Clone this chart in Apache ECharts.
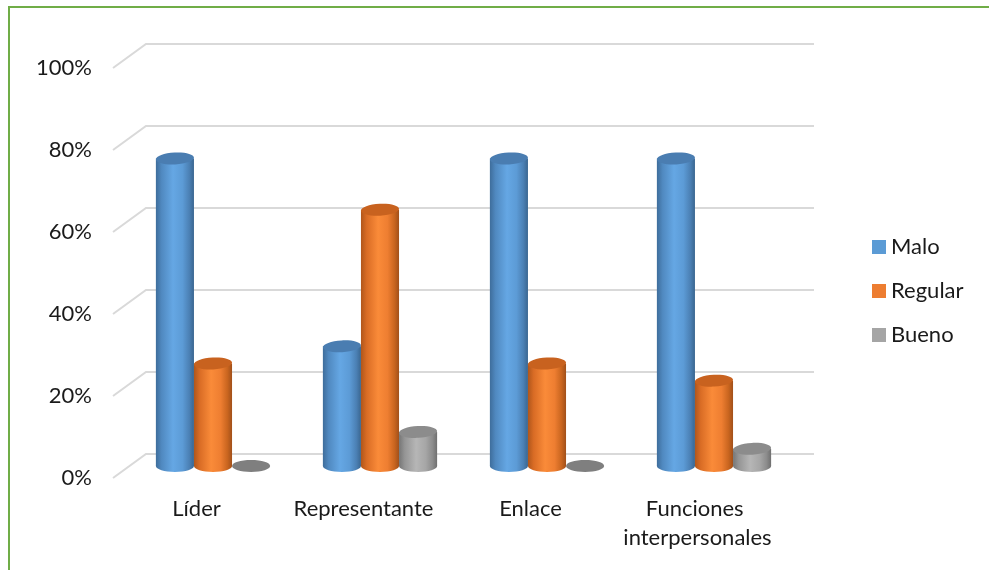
<!DOCTYPE html>
<html>
<head>
<meta charset="utf-8">
<script src="https://cdn.jsdelivr.net/npm/echarts@6/dist/echarts.min.js"></script>
<style>
  html, body { margin: 0; padding: 0; background: #ffffff; }
  #chart { width: 989px; height: 570px; }
</style>
</head>
<body>
<div id="chart"></div>
<script>
// Categories and percentages per rating
const categories = ['Líder', 'Representante', 'Enlace', 'Funciones interpersonales'];
const seriesNames = ['Malo', 'Regular', 'Bueno'];
const malo = [75, 29.2, 75, 75];
const regular = [25, 62.5, 25, 20.8];
const bueno = [0, 8.3, 0, 4.2];
const yTicks = [0, 20, 40, 60, 80, 100];

// Depth of the pseudo-3D floor/back wall (pixels)
const DEPTH_X = 33;
const DEPTH_Y = -24;
const BAR_RATIO = 0.228;
const FONT = 'Lato, "Open Sans", sans-serif';
const TEXT_COLOR = '#1a1a1a';
const FONT_SIZE = 22;

const shades = {
  Malo: {
    legend: '#5b9bd5',
    top: '#4a7db1',
    flat: '#4a7db1',
    stops: [
      { offset: 0, color: '#3e6d9b' },
      { offset: 0.15, color: '#5089c0' },
      { offset: 0.45, color: '#65a7e4' },
      { offset: 0.7, color: '#5c9bd6' },
      { offset: 0.88, color: '#4b80b4' },
      { offset: 1, color: '#3a6690' }
    ]
  },
  Regular: {
    legend: '#ed7d31',
    top: '#c8621f',
    flat: '#c8621f',
    stops: [
      { offset: 0, color: '#b0561b' },
      { offset: 0.15, color: '#d96c25' },
      { offset: 0.45, color: '#fa8b39' },
      { offset: 0.7, color: '#ee7e31' },
      { offset: 0.88, color: '#c9651f' },
      { offset: 1, color: '#a1501a' }
    ]
  },
  Bueno: {
    legend: '#a5a5a5',
    top: '#8c8c8c',
    flat: '#7f7f7f',
    stops: [
      { offset: 0, color: '#767676' },
      { offset: 0.15, color: '#959595' },
      { offset: 0.45, color: '#b6b6b6' },
      { offset: 0.7, color: '#a6a6a6' },
      { offset: 0.88, color: '#8c8c8c' },
      { offset: 1, color: '#6f6f6f' }
    ]
  }
};

// Back wall lines plus the slanted connectors from the value axis
function renderWall(params, api) {
  const cs = params.coordSys;
  const y = api.coord([0, api.value(1)])[1];
  const x0 = cs.x;
  const x1 = cs.x + cs.width;
  return {
    type: 'polyline',
    silent: true,
    shape: { points: [[x0, y], [x0 + DEPTH_X, y + DEPTH_Y], [x1 + DEPTH_X, y + DEPTH_Y]] },
    style: { stroke: '#d9d9d9', lineWidth: 2, fill: null }
  };
}

// One cylinder per data item, standing at mid-depth of the floor
function makeCylinder(seriesIndex, shade) {
  return function (params, api) {
    const idx = api.value(0);
    const val = api.value(1);
    const band = api.size([1, 0])[0];
    const barW = band * BAR_RATIO;
    const base = api.coord([idx, 0]);
    const topPt = api.coord([idx, val]);
    const cx = base[0] + DEPTH_X / 2 + (seriesIndex - 1) * barW;
    const yb = base[1] + DEPTH_Y / 2;
    const yt = topPt[1] + DEPTH_Y / 2;
    const rx = barW / 2;
    const ry = barW * 0.155;
    const tilt = 0.05;

    if (yb - yt < 1) {
      return {
        type: 'ellipse',
        shape: { cx: cx, cy: yb, rx: rx, ry: ry },
        style: { fill: shade.flat }
      };
    }
    const grad = () => new echarts.graphic.LinearGradient(0, 0, 1, 0, shade.stops);
    return {
      type: 'group',
      children: [
        { type: 'ellipse', shape: { cx: cx, cy: yb, rx: rx, ry: ry }, style: { fill: grad() } },
        { type: 'rect', shape: { x: cx - rx, y: yt, width: barW, height: yb - yt }, style: { fill: grad() } },
        {
          type: 'ellipse',
          shape: { cx: cx, cy: yt, rx: rx, ry: ry },
          rotation: tilt,
          originX: cx,
          originY: yt,
          style: { fill: shade.top }
        }
      ]
    };
  };
}

const valueLists = [malo, regular, bueno];
const barSeries = seriesNames.map((name, i) => ({
  name: name,
  type: 'custom',
  renderItem: makeCylinder(i, shades[name]),
  itemStyle: { color: shades[name].legend },
  encode: { x: 0, y: 1 },
  data: valueLists[i].map((v, c) => [c, v]),
  z: 3
}));

const chart = echarts.init(document.getElementById('chart'), null, { renderer: 'canvas' });
chart.setOption({
  backgroundColor: '#ffffff',
  animation: false,
  textStyle: { fontFamily: FONT },
  grid: { left: 113, right: 208, top: 68, bottom: 92, containLabel: false },
  xAxis: {
    type: 'category',
    data: categories,
    axisLine: { show: false },
    axisTick: { show: false },
    splitLine: { show: false },
    axisLabel: {
      fontFamily: FONT,
      fontSize: FONT_SIZE,
      color: TEXT_COLOR,
      margin: 16,
      lineHeight: 29,
      width: 165,
      overflow: 'break',
      interval: 0
    }
  },
  yAxis: {
    type: 'value',
    min: 0,
    max: 100,
    interval: 20,
    axisLine: { show: false },
    axisTick: { show: false },
    splitLine: { show: false },
    axisLabel: {
      fontFamily: FONT,
      fontSize: FONT_SIZE,
      color: TEXT_COLOR,
      margin: 21,
      formatter: '{value}%'
    }
  },
  legend: {
    orient: 'vertical',
    left: 867,
    top: 231,
    icon: 'rect',
    itemWidth: 14,
    itemHeight: 14,
    itemGap: 22,
    data: seriesNames,
    textStyle: { fontFamily: FONT, fontSize: FONT_SIZE, color: TEXT_COLOR }
  },
  graphic: [
    {
      type: 'rect',
      silent: true,
      shape: { x: 9, y: 7, width: 1000, height: 600 },
      style: { fill: null, stroke: '#70ad47', lineWidth: 2 },
      z: 10
    }
  ],
  series: [
    {
      name: 'wall',
      type: 'custom',
      silent: true,
      renderItem: renderWall,
      encode: { x: 0, y: 1 },
      data: yTicks.map(v => [0, v]),
      z: 1
    }
  ].concat(barSeries)
});
</script>
</body>
</html>
